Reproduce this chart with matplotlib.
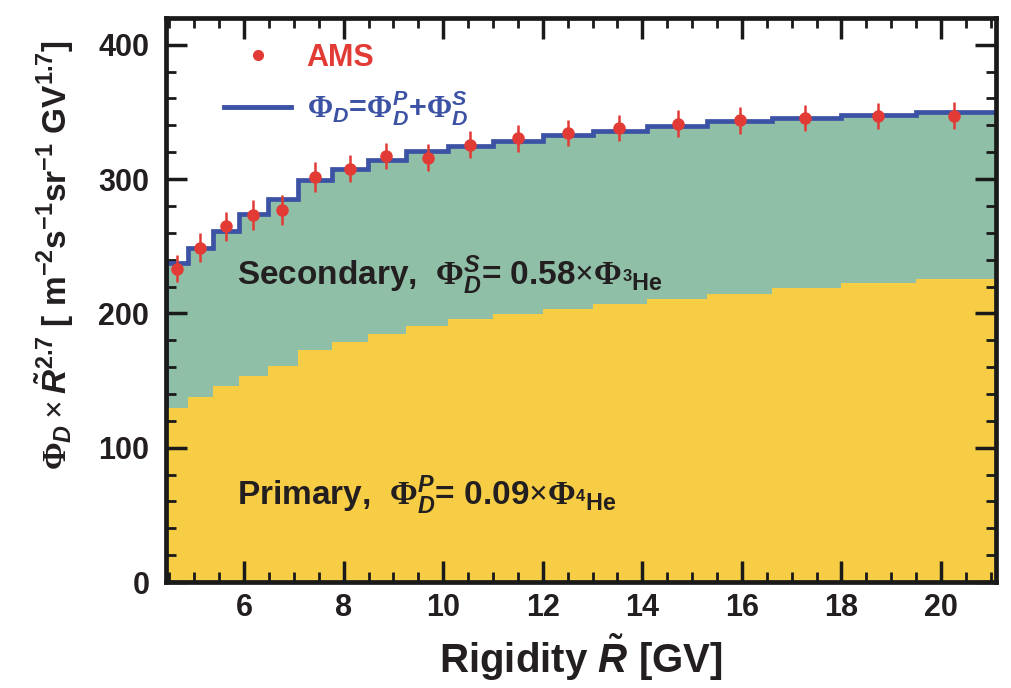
import numpy as np
import matplotlib
matplotlib.use("Agg")
import matplotlib.pyplot as plt
from matplotlib.lines import Line2D

# rigidity bin edges [GV] and values
edges = [4.43, 4.88, 5.37, 5.9, 6.47, 7.09, 7.76, 8.48, 9.26, 10.1,
         11.0, 12.0, 13.0, 14.1, 15.3, 16.6, 18.0, 19.5, 21.1]
primary = [129.6, 137.6, 146.3, 153.7, 160.7, 172.4, 178.9, 184.8, 190.5,
           195.5, 199.3, 203.5, 206.7, 210.4, 214.7, 218.7, 222.4, 225.4]
total = [237.5, 249.0, 261.4, 273.9, 285.0, 299.3, 307.5, 314.2, 321.1,
         324.9, 328.6, 333.1, 336.0, 339.8, 343.0, 345.3, 348.0, 349.8]

ams_r = [4.65, 5.11, 5.64, 6.18, 6.77, 7.43, 8.12, 8.86, 9.69, 10.54,
         11.5, 12.51, 13.54, 14.71, 15.96, 17.27, 18.74, 20.27]
ams_flux = [233.3, 249.0, 264.7, 273.4, 276.9, 301.5, 307.7, 317.2, 315.9,
            325.6, 330.3, 334.3, 338.0, 341.3, 343.8, 345.5, 347.0, 347.3]
ams_err = [10, 11, 11, 11, 11, 11, 10, 10, 10, 10, 10, 10, 10, 10, 10, 10, 10, 10]

yellow = "#f6cd44"
green = "#8fbfa7"
blue = "#3c52a4"
red = "#e23b35"
dark = "#231f20"

plt.rcParams['font.family'] = ['Liberation Sans Narrow', 'Liberation Sans']
plt.rcParams['font.weight'] = 'bold'
plt.rcParams['mathtext.fontset'] = 'custom'
plt.rcParams['mathtext.rm'] = 'Liberation Serif'
plt.rcParams['mathtext.it'] = 'Liberation Sans:bold:italic'
plt.rcParams['mathtext.bf'] = 'Liberation Sans:bold'

fig = plt.figure(figsize=(10.12, 6.88), dpi=100)
ax = fig.add_axes([0.164, 0.154, 0.82, 0.82])

ax.stairs(primary, edges, fill=True, color=yellow, zorder=1)
ax.stairs(total, edges, baseline=primary, fill=True, color=green, zorder=1)
ax.stairs(total, edges, baseline=None, color=blue, lw=3.4, zorder=2)
ax.vlines(edges[0], primary[0], total[0], color=blue, lw=3.4, zorder=2)

ax.errorbar(ams_r, ams_flux, yerr=ams_err, fmt='o', color=red, ms=8,
            elinewidth=1.8, capsize=0, zorder=3)

ax.set_xlim(edges[0], edges[-1])
ax.set_ylim(0, 420)
ax.set_xticks(np.arange(6, 21, 2))
ax.set_xticks(np.arange(4.5, 21.1, 0.5), minor=True)
ax.set_yticks(np.arange(0, 401, 100))
ax.set_yticks(np.arange(0, 421, 20), minor=True)
ax.tick_params(which='both', direction='in', top=True, right=True,
               color='#1a1a1a', labelcolor=dark, labelsize=22)
ax.tick_params(which='major', length=15, width=2.5)
ax.tick_params(which='minor', length=7, width=2.0)
ax.tick_params(axis='x', pad=8)
ax.tick_params(axis='y', pad=12)
for s in ax.spines.values():
    s.set_linewidth(3.4)
    s.set_color('#1a1a1a')
    s.set_zorder(5)

ax.set_xlabel(r"Rigidity $\tilde{R}$ [GV]", fontsize=29, fontweight='bold',
              color=dark, labelpad=6)
ax.set_ylabel(r"$\Phi_D\times\tilde{R}^{\mathbf{2.7}}$ [ m$^{\mathbf{-2}}$s$^{\mathbf{-1}}$sr$^{\mathbf{-1}}$ GV$^{\mathbf{1.7}}$]",
              fontsize=24, fontweight='bold', color=dark)
ax.yaxis.set_label_coords(-0.108, 0.58)

ax.text(5.86, 221, r"Secondary,  $\Phi_D^S$= 0.58$\times\Phi_{{}^\mathbf{3}\mathbf{He}}$",
        fontsize=24, color=dark, ha='left', va='baseline', zorder=4)
ax.text(5.86, 57, r"Primary,  $\Phi_D^P$= 0.09$\times\Phi_{{}^\mathbf{4}\mathbf{He}}$",
        fontsize=24, color=dark, ha='left', va='baseline', zorder=4)

handles = [Line2D([], [], marker='o', ls='none', color=red, ms=7),
           Line2D([], [], color=blue, lw=3.5)]
labels = ["AMS", r"$\Phi_D$=$\Phi_D^P$+$\Phi_D^S$"]
leg = ax.legend(handles, labels, loc='upper left', bbox_to_anchor=(0.037, 1.004),
                frameon=False, fontsize=22, handlelength=2.2, handletextpad=0.5,
                labelspacing=0.5)
leg.get_texts()[0].set_color(red)
leg.get_texts()[1].set_color(blue)

fig.savefig("out.png", dpi=100)
